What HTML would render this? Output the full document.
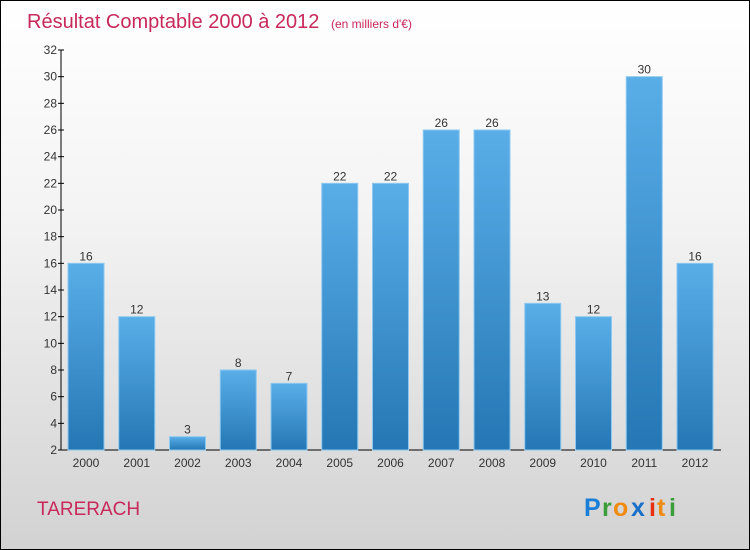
<!DOCTYPE html>
<html><head><meta charset="utf-8"><style>
body{margin:0;}
#c{width:748px;height:548px;border:1px solid #000;background:linear-gradient(#ffffff 0%,#f3f3f3 40%,#d2d2d2 100%);position:relative;font-family:"Liberation Sans",sans-serif;overflow:hidden}
</style></head><body>
<div id="c">
<svg id="s" width="748" height="548">
<defs><linearGradient id="g" x1="0" y1="0" x2="0" y2="1"><stop offset="0" stop-color="#5aaee8"/><stop offset="1" stop-color="#2477b4"/></linearGradient></defs>
<text x="26" y="27" font-size="20" fill="#c8285a">Résultat Comptable 2000 à 2012 <tspan font-size="12" dx="6">(en milliers d'€)</tspan></text>
<text x="36" y="514" font-size="19" fill="#c8285a" font-weight="300">TARERACH</text>
<g font-size="25" font-weight="bold"><text x="583" y="515" fill="#1a7fd8">P</text><text x="601" y="515" fill="#3a9e3a">r</text><text x="612" y="515" fill="#f08a10">o</text><text x="630" y="515" fill="#1a6fc8">x</text><text x="648" y="515" fill="#e83010">i</text><text x="656" y="515" fill="#f08a10">t</text><text x="668" y="515" fill="#3a9e3a">i</text></g>
</svg></div>
<script>
const years=["2000","2001","2002","2003","2004","2005","2006","2007","2008","2009","2010","2011","2012"];
const values=[16,12,3,8,7,22,22,26,26,13,12,30,16];
const ticks=[2,4,6,8,10,12,14,16,18,20,22,24,26,28,30,32];
const s=document.getElementById('s'),NS="http://www.w3.org/2000/svg";
const y=v=>449-(v-2)*(400/30);
const x=i=>67+i*50.75;
function mk(t,a,p){const e=document.createElementNS(NS,t);for(const k in a)e.setAttribute(k,a[k]);(p||s).appendChild(e);return e;}
let ax=mk('line',{x1:60,y1:49,x2:60,y2:449,stroke:'#000'});


let bx=mk('line',{x1:60,y1:449,x2:720,y2:449,stroke:'#000'});


ticks.forEach(t=>{
 let l=mk('line',{x1:57,y1:y(t),x2:63,y2:y(t),stroke:'#000'});
 
 
 let tx=mk('text',{x:56,y:y(t)+4,'font-size':12,'text-anchor':'end',fill:'#333'});tx.textContent=t;
 
 
});
years.forEach((yr,i)=>{
 let r=mk('rect',{x:x(i),y:y(values[i]),width:36,height:y(2)-y(values[i]),fill:'url(#g)',stroke:'#8cc8f0','stroke-width':1});
 
 
 let v=mk('text',{x:x(i)+18,y:y(values[i])-3,'font-size':12,'text-anchor':'middle',fill:'#333'});v.textContent=values[i];
 
 
 let t=mk('text',{x:x(i)+18,y:466,'font-size':12,'text-anchor':'middle',fill:'#333'});t.textContent=yr;
 
 
});
</script>
</body></html>
